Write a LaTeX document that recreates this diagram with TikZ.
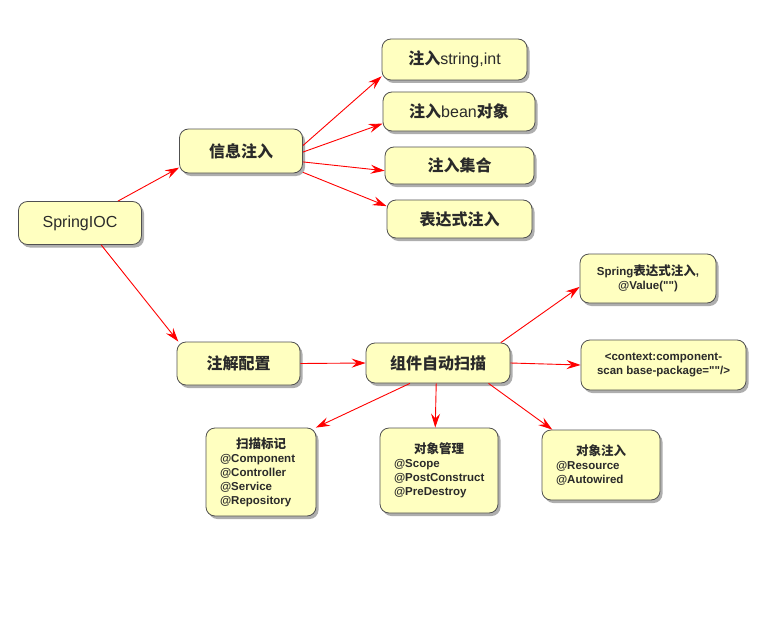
\documentclass[tikz,border=0pt]{standalone}
\usepackage{fontspec}
\setmainfont{Liberation Sans}
\newfontfamily\plainq{Liberation Sans}[Ligatures=TeXOff]
\newfontfamily\cjk{Noto Sans CJK SC}
\usetikzlibrary{arrows.meta,shadows}
\newcommand{\zh}[1]{{\cjk\bfseries #1}}
\newcommand{\zht}[1]{{\cjk\fontsize{12.5}{14}\selectfont #1}}
\newcommand{\dq}{{\plainq\symbol{34}}}
\definecolor{boxfill}{HTML}{FFFFC0}
\definecolor{boxdraw}{HTML}{505050}
\definecolor{txt}{HTML}{2A2A2A}
\begin{document}
\begin{tikzpicture}[x=1pt,y=-1pt,
  box/.style={draw=boxdraw, line width=0.8pt, fill=boxfill, rounded corners=9pt,
    text=txt, inner sep=0pt,
    drop shadow={shadow xshift=2.5pt, shadow yshift=-3pt, opacity=0.45, fill=black!70}},
  big/.style={box, font=\fontsize{16}{18}\selectfont},
  small/.style={box, font=\bfseries\fontsize{11.5}{14}\selectfont, align=center},
  list/.style={box, font=\bfseries\fontsize{11.5}{14}\selectfont, align=left, inner xsep=14pt},
  link/.style={draw=red, line width=0.9pt, -{Stealth[length=14pt,width=9pt,inset=5pt]}}]
\useasboundingbox[fill=white] (0,0) rectangle (770,623);

\node[big, minimum width=123pt, minimum height=43pt] (ioc) at (80,223) {SpringIOC};
\node[big, minimum width=123pt, minimum height=44pt] (info) at (241,151) {\zh{信息注入}};
\node[big, minimum width=145pt, minimum height=41pt] (str) at (454.5,59.5) {\zh{注入}string,int};
\node[big, minimum width=152pt, minimum height=39pt] (bean) at (459,111.5) {\zh{注入}bean\zh{对象}};
\node[big, minimum width=149pt, minimum height=37pt] (coll) at (459.5,165.5) {\zh{注入集合}};
\node[big, minimum width=145pt, minimum height=38pt] (expr) at (459.5,219) {\zh{表达式注入}};
\node[big, minimum width=123pt, minimum height=43pt] (ann) at (238.5,363.5) {\zh{注解配置}};
\node[big, minimum width=144pt, minimum height=40pt] (scan) at (438,363) {\zh{组件自动扫描}};

\node[small, minimum width=136pt, minimum height=49pt] (spel) at (648,278.5)
  {Spring\zht{表达式注入},\\@Value(\dq\dq)};
\node[small, minimum width=165pt, minimum height=50pt] (ctx) at (663.5,365)
  {<context:component-\\scan base-package=\dq\dq/>};

\node[list, minimum width=110pt, minimum height=88pt, text width=82pt] (mark) at (261,472)
  {\makebox[82pt]{\zht{扫描标记}}\\@Component\\@Controller\\@Service\\@Repository};
\node[list, minimum width=118pt, minimum height=85pt, text width=90pt] (mgmt) at (439,470.5)
  {\makebox[90pt]{\zht{对象管理}}\\@Scope\\@PostConstruct\\@PreDestroy};
\node[list, minimum width=118pt, minimum height=70pt, text width=90pt] (inj) at (601,465)
  {\makebox[90pt]{\zht{对象注入}}\\@Resource\\@Autowired\\[4pt]};

\draw[link] (ioc.30) -- (info.195);
\draw[link] (ioc.-46) -- (ann.160);
\draw[link] (info.5) -- (str.193);
\draw[link] (info.-1) -- (bean.189);
\draw[link] (info.-10) -- (coll.184);
\draw[link] (info.-19) -- (expr.170);
\draw[link] (ann.east) -- (scan.west);
\draw[link] (scan.18) -- (spel.187);
\draw[link] (scan.east) -- (ctx.west);
\draw[link] (scan.216) -- (mark.39);
\draw[link] (scan.265) -- (mgmt.95);
\draw[link] (scan.-22) -- (inj.144);
\end{tikzpicture}
\end{document}
